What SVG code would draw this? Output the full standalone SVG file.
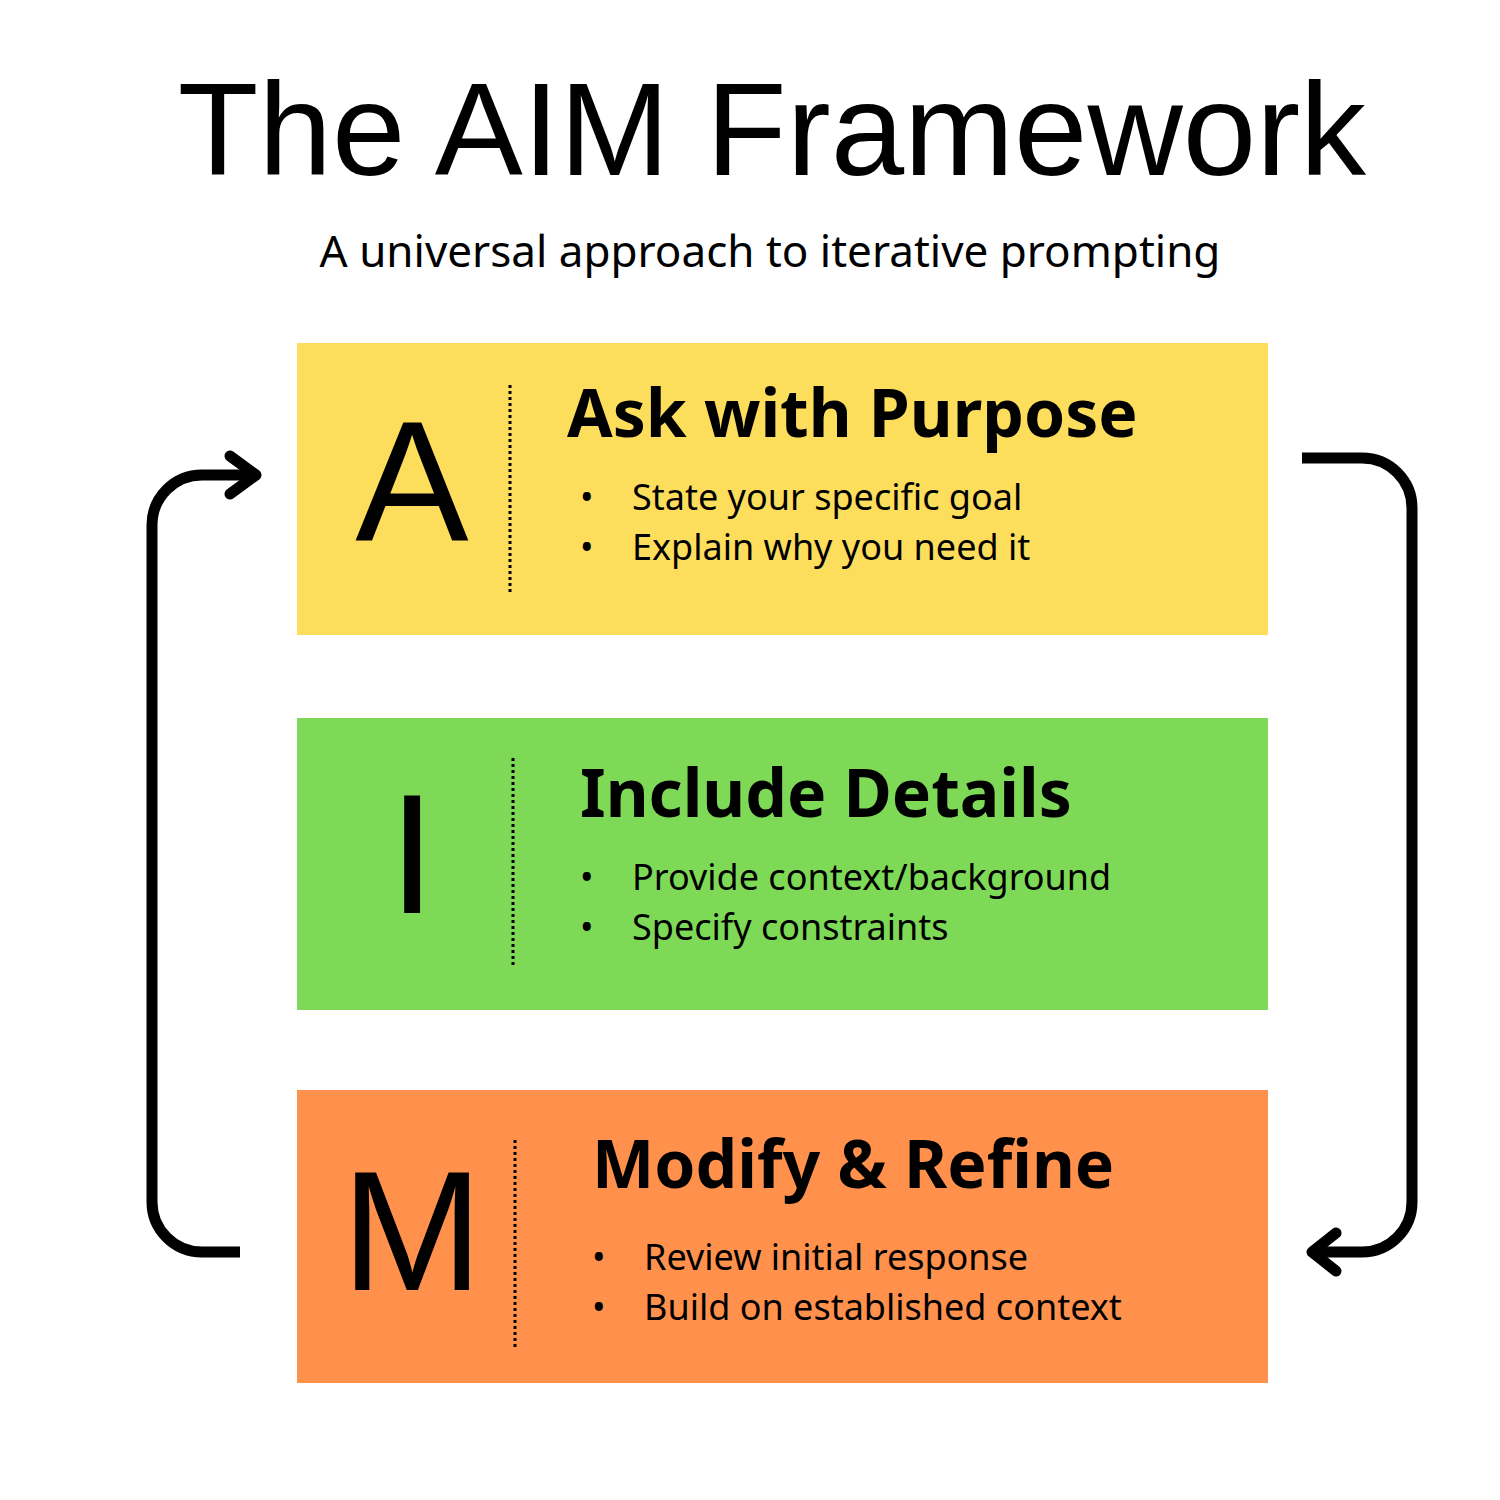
<svg xmlns="http://www.w3.org/2000/svg" width="1500" height="1500" viewBox="0 0 1500 1500">
<style>
.title{font-family:"Liberation Sans",Arial,sans-serif;font-size:132px;fill:#000}
.sub{font-family:"Noto Sans",sans-serif;font-size:44px;fill:#000}
.letter{font-family:"Liberation Sans",Arial,sans-serif;font-size:170px;fill:#000}
.head{font-family:"Noto Sans",sans-serif;font-weight:bold;font-size:66px;fill:#000}
.item{font-family:"Noto Sans",sans-serif;font-size:36px;fill:#000}
.div{stroke:#000;stroke-width:3;stroke-dasharray:3 3}
.conn{fill:none;stroke:#000;stroke-width:11;stroke-linecap:butt;stroke-linejoin:round}
.head2{fill:none;stroke:#000;stroke-width:11;stroke-linecap:round;stroke-linejoin:round}
</style>
<rect width="1500" height="1500" fill="#fff"/>
<text class="title" x="772" y="175" text-anchor="middle">The AIM Framework</text>
<text class="sub" x="770" y="267" text-anchor="middle">A universal approach to iterative prompting</text>
<g id="nodeA">
<rect x="297" y="343" width="971" height="292" fill="#fddd5c"/>
<text class="letter" x="412" y="540" text-anchor="middle">A</text>
<line class="div" x1="510" y1="385" x2="510" y2="595"/>
<text class="head" x="567" y="437">Ask with Purpose</text>
<text class="item" x="580" y="510">•<tspan x="632">State your specific goal</tspan></text>
<text class="item" x="580" y="560">•<tspan x="632">Explain why you need it</tspan></text>
</g>
<g id="nodeI">
<rect x="297" y="718" width="971" height="292" fill="#7ed957"/>
<text class="letter" x="412" y="913" text-anchor="middle">I</text>
<line class="div" x1="513" y1="758" x2="513" y2="968"/>
<text class="head" x="580" y="817">Include Details</text>
<text class="item" x="580" y="890">•<tspan x="632">Provide context/background</tspan></text>
<text class="item" x="580" y="940">•<tspan x="632">Specify constraints</tspan></text>
</g>
<g id="nodeM">
<rect x="297" y="1090" width="971" height="293" fill="#ff914d"/>
<text class="letter" x="412" y="1290" text-anchor="middle">M</text>
<line class="div" x1="515" y1="1140" x2="515" y2="1350"/>
<text class="head" x="592" y="1188">Modify &amp; Refine</text>
<text class="item" x="592" y="1270">•<tspan x="644">Review initial response</tspan></text>
<text class="item" x="592" y="1320">•<tspan x="644">Build on established context</tspan></text>
</g>
<g id="connectors">
<path class="conn" d="M240 1252 H202 A50 50 0 0 1 152 1202 V525 A50 50 0 0 1 202 475 H252"/>
<path class="head2" d="M230 456 L256 475 L230 494"/>
<path class="conn" d="M1302 458 H1362 A50 50 0 0 1 1412 508 V1202 A50 50 0 0 1 1362 1252 H1314"/>
<path class="head2" d="M1336 1233 L1312 1252 L1336 1271"/>
</g>
</svg>
